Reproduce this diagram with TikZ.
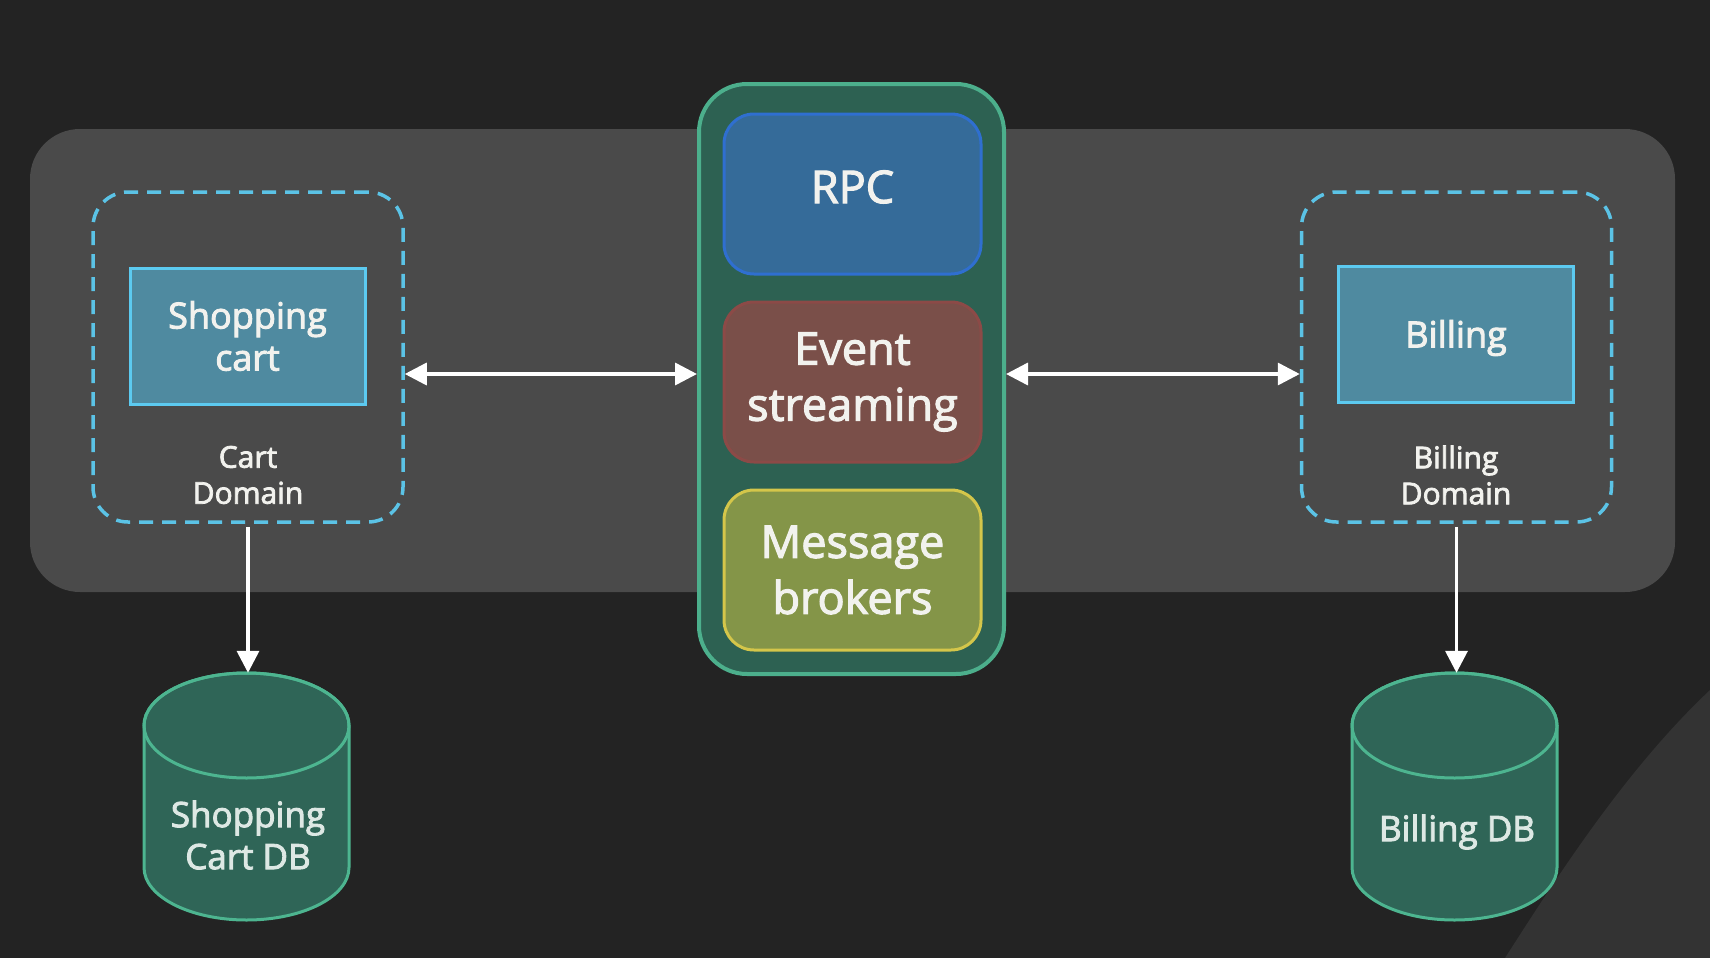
\documentclass[tikz,border=0pt]{standalone}
\usepackage{fontspec}
\setmainfont{Open Sans}[FakeBold=2.6]
\usetikzlibrary{arrows.meta}
\definecolor{bgc}{HTML}{232323}
\definecolor{bandc}{HTML}{4A4A4A}
\definecolor{cornerc}{HTML}{333333}
\definecolor{busfill}{HTML}{2D6152}
\definecolor{busline}{HTML}{4CAF8C}
\definecolor{rpcfill}{HTML}{356B99}
\definecolor{rpcline}{HTML}{2F6FD0}
\definecolor{evfill}{HTML}{7A4F49}
\definecolor{evline}{HTML}{8C4A47}
\definecolor{msgfill}{HTML}{849548}
\definecolor{msgline}{HTML}{D4C64A}
\definecolor{dashc}{HTML}{5BC3E6}
\definecolor{boxfill}{HTML}{4F8AA0}
\definecolor{boxline}{HTML}{5CCAF0}
\definecolor{dbfillc}{HTML}{2F6557}
\definecolor{dblinec}{HTML}{4DB590}
\definecolor{txt}{HTML}{F2F2EE}
\definecolor{dbtxt}{HTML}{DDE8E4}
\tikzset{
  busbox/.style={draw=busline, fill=busfill, line width=4pt, rounded corners=48pt, minimum width=305pt, minimum height=590pt},
  innerbox/.style={line width=3pt, rounded corners=30pt, minimum width=257pt, minimum height=160pt, text=txt, align=center, font=\fontsize{45}{56}\selectfont},
  domainbox/.style={draw=dashc, line width=3.5pt, dash pattern=on 14pt off 9pt, rounded corners=35pt, minimum width=310pt, minimum height=330pt},
  svcbox/.style={draw=boxline, fill=boxfill, line width=3pt, minimum width=235pt, minimum height=136pt, text=txt, align=center, font=\fontsize{36}{42}\selectfont},
  domlbl/.style={text=txt, align=center, font=\fontsize{30}{36}\selectfont},
  dbshape/.style={draw=dblinec, fill=dbfillc, line width=3pt},
  dbframe/.style={minimum width=205pt, minimum height=247pt, inner sep=0pt},
  dblbl/.style={text=dbtxt, align=center, font=\fontsize{35}{42}\selectfont},
  arr/.style={draw=white, line width=3.5pt, -{Triangle[length=22pt,width=22pt]}},
  arrboth/.style={draw=white, line width=3.5pt, {Triangle[length=22pt,width=22pt]}-{Triangle[length=22pt,width=22pt]}}
}
\begin{document}
\begin{tikzpicture}[x=1pt,y=-1pt]
\useasboundingbox (0,0) rectangle (1710,958);
\fill[bgc] (0,0) rectangle (1710,958);
\fill[cornerc] (1710,690) .. controls (1625,770) and (1555,880) .. (1505,958) -- (1710,958) -- cycle;
\fill[bandc, rounded corners=50pt] (30,129) rectangle (1675,592);

% central bus
\node[busbox] (bus) at (851.5,379) {};
\node[innerbox, draw=rpcline, fill=rpcfill, text height=32pt, text depth=14pt] (rpc) at (852.5,194) {RPC};
\node[innerbox, draw=evline, fill=evfill] (event) at (852.5,382) {Event\\streaming};
\node[innerbox, draw=msgline, fill=msgfill] (msg) at (852.5,570) {Message\\brokers};

% cart domain
\node[domainbox] (cartdom) at (248,357) {};
\node[svcbox] (cart) at (247.5,336) {Shopping\\cart};
\node[domlbl] (cartlbl) at (248,475) {Cart\\Domain};

% billing domain
\node[domainbox] (billdom) at (1456.5,357) {};
\node[svcbox] (bill) at (1456,334) {};
\node[text=txt, font=\fontsize{36}{42}\selectfont] (billtxt) at (1456,338) {Billing};
\node[domlbl] (billlbl) at (1456,475) {Billing\\Domain};

% databases
\node[dbframe] (cartdb) at (246.5,796.5) {};
\filldraw[dbshape] (144,725.5) -- (144,867.5) arc[start angle=180,end angle=0,x radius=102.5,y radius=52.5] -- (349,725.5) arc[start angle=0,end angle=-180,x radius=102.5,y radius=52.5] -- cycle;
\draw[dbshape, fill=none] (246.5,725.5) ellipse[x radius=102.5, y radius=52.5];
\node[dblbl] (cartdbtxt) at (248,835) {Shopping\\Cart DB};

\node[dbframe] (billdb) at (1454.5,796.5) {};
\filldraw[dbshape] (1352,725.5) -- (1352,867.5) arc[start angle=180,end angle=0,x radius=102.5,y radius=52.5] -- (1557,725.5) arc[start angle=0,end angle=-180,x radius=102.5,y radius=52.5] -- cycle;
\draw[dbshape, fill=none] (1454.5,725.5) ellipse[x radius=102.5, y radius=52.5];
\node[dblbl] (billdbtxt) at (1457,832) {Billing DB};

% connectors
\coordinate (ly) at (0,374);
\draw[arrboth] (cartdom.east |- ly) -- (bus.west |- ly);
\draw[arrboth] (bus.east |- ly) -- (billdom.west |- ly);
\draw[arr] ([yshift=-3pt]cartdom.south) -- (cartdom.south |- cartdb.north);
\draw[arr] ([yshift=-3pt]billdom.south) -- (billdom.south |- billdb.north);
\end{tikzpicture}
\end{document}
